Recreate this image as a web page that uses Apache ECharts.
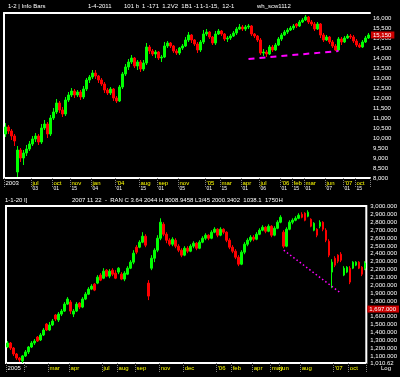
<!DOCTYPE html>
<html>
<head>
<meta charset="utf-8">
<script src="https://cdn.jsdelivr.net/npm/echarts@6/dist/echarts.min.js"></script>
<style>
  html, body { margin: 0; padding: 0; background: #000; }
  #chart { width: 400px; height: 377px; }
</style>
</head>
<body>
<div id="chart"></div>
<script>
// upper panel, [open, close, low, high]
var topBars = [
  [10200,10550,10050,10750],[10550,10350,10200,10650],[10350,10100,9900,10450],[10100,9850,9600,10200],
  [8300,9400,8050,9600],[9400,9000,8800,9500],[9000,9250,8650,9400],[9250,9450,9100,9650],
  [9450,9700,9350,9850],[9700,9950,9600,10100],[9950,10100,9800,10250],[10100,9800,9650,10200],
  [9800,10500,9700,10700],[10500,10700,10400,10900],[10700,10200,10000,10800],[10200,11000,10100,11150],
  [11000,11300,10900,11500],[11300,11750,11200,11950],[11750,11400,11250,11850],[11400,11200,11050,11550],
  [11200,11900,11100,12050],[11900,12150,11800,12300],[12150,12350,12050,12500],[12350,12150,12000,12450],
  [12150,12300,12050,12400],[12300,12050,11900,12400],[12050,12450,11950,12600],[12450,12900,12350,13000],
  [12900,13050,12750,13150],[13050,13250,12950,13400],[13250,13100,12950,13400],[13100,12900,12750,13150],
  [12900,12700,12600,13000],[12700,12400,12250,12800],[12400,12250,12150,12500],[12250,12450,12150,12550],
  [12450,12000,11850,12500],[12000,11850,11750,12100],[11850,12550,11800,12650],[12550,13200,12450,13300],
  [13200,13550,13100,13700],[13550,13800,13400,13950],[13800,14000,13700,14150],[14000,13600,13500,14050],
  [13600,13800,13400,13900],[13800,13450,13300,13900],[13450,13750,13350,13900],[13750,14550,13650,14750],
  [14550,14350,14200,14650],[14350,14200,14100,14450],[14200,14300,14000,14400],[14300,14000,13900,14350],
  [14000,14050,13800,14150],[14050,14600,14000,14800],[14600,14750,14500,14850],[14750,14600,14500,14800],
  [14600,14350,14250,14650],[14350,14250,14150,14450],[14250,14500,14150,14550],[14500,14600,14400,14700],
  [14600,14900,14550,15050],[14900,15150,14800,15300],[15150,14900,14750,15200],[14900,14700,14600,14950],
  [14700,14400,14250,14800],[14400,14800,14300,14900],[14800,15200,14700,15400],[15200,15300,15100,15450],
  [15300,15050,14950,15350],[15050,14750,14650,15100],[14750,15200,14650,15350],[15200,15350,15150,15450],
  [15350,15200,15100,15400],[15200,14950,14850,15250],[14950,15000,14800,15100],[15000,15100,14900,15200],
  [15100,15250,15050,15350],[15250,15450,15150,15550],[15450,15550,15400,15700],[15550,15450,15350,15650],
  [15450,15550,15350,15650],[15550,15600,15450,15700],[15600,15200,15100,15650],[15200,15100,15000,15250],
  [15100,14900,14800,15150],[14900,14250,14150,15000],[14250,14300,14100,14450],[14300,14200,14050,14400],
  [14200,14550,14150,14650],[14550,14400,14300,14650],[14400,14650,14350,14750],[14650,14950,14600,15050],
  [14950,15150,14850,15250],[15150,15300,15100,15400],[15300,15400,15200,15500],[15400,15500,15350,15600],
  [15500,15600,15400,15700],[15700,15600,15500,15750],[15600,15800,15550,15900],[15800,15900,15750,16000],
  [15900,16050,15850,16150],[16050,15800,15700,16100],[15800,15700,15600,15900],[15700,15450,15350,15800],
  [15450,15700,15400,15800],[15700,15150,15000,15750],[15150,14900,14800,15250],[14900,15050,14850,15150],
  [15050,14800,14700,15100],[14800,14600,14500,14900],[14600,14400,14350,14700],[14400,14950,14350,15050],
  [14950,14800,14650,15050],[14800,15000,14750,15100],[15000,15100,14950,15200],[15100,15050,14950,15200],
  [15050,14850,14750,15150],[14850,14650,14550,14950],[14650,14550,14500,14750],[14550,14800,14500,14900],
  [14800,15000,14750,15100],[15000,15150,14950,15250]
];
// lower panel, [open, close, low, high]
var botBars = [
  [1214,1265,1201,1290],[1265,1201,1176,1278],[1201,1125,1100,1214],[1125,1074,1049,1138],
  [1074,1049,1024,1087],[1036,1100,1011,1113],[1100,1151,1087,1176],[1151,1214,1125,1227],
  [1214,1265,1201,1290],[1265,1290,1240,1316],[1341,1290,1278,1354],[1303,1367,1290,1392],
  [1367,1430,1354,1455],[1506,1430,1417,1519],[1430,1494,1417,1532],[1494,1544,1481,1570],
  [1621,1570,1544,1633],[1557,1633,1532,1659],[1633,1671,1608,1697],[1671,1760,1659,1786],
  [1760,1824,1748,1849],[1786,1671,1633,1811],[1633,1671,1595,1697],[1671,1760,1659,1786],
  [1773,1722,1697,1786],[1722,1824,1709,1849],[1824,1887,1811,1913],[1887,1951,1875,1976],
  [1951,1989,1938,2014],[2014,1938,1925,2027],[2027,2103,2014,2129],[2129,2065,2052,2154],
  [2090,2179,2078,2217],[2192,2116,2103,2205],[2116,2179,2090,2205],[2192,2141,2116,2217],
  [2154,2090,2078,2192],[2167,2217,2141,2230],[2141,2078,2065,2167],[2078,2154,2052,2179],
  [2141,2217,2129,2243],[2217,2294,2205,2319],[2294,2408,2268,2446],[2484,2421,2395,2510],
  [2484,2548,2471,2573],[2548,2624,2535,2675],[2624,2510,2484,2649],[2027,1862,1811,2065],
  [2217,2344,2192,2383],[2344,2446,2294,2471],[2446,2598,2421,2637],[2598,2802,2573,2852],
  [2776,2649,2624,2802],[2649,2573,2535,2675],[2573,2522,2497,2598],[2522,2586,2497,2611],
  [2573,2497,2471,2598],[2497,2446,2421,2522],[2446,2383,2357,2471],[2383,2471,2370,2497],
  [2471,2433,2408,2497],[2433,2497,2421,2522],[2497,2535,2471,2560],[2535,2471,2446,2548],
  [2471,2548,2459,2573],[2548,2598,2535,2624],[2598,2637,2573,2662],[2637,2598,2573,2649],
  [2598,2675,2586,2700],[2675,2713,2662,2738],[2713,2637,2611,2725],[2637,2713,2624,2738],
  [2713,2675,2649,2725],[2675,2573,2548,2687],[2573,2484,2459,2598],[2484,2433,2408,2510],
  [2433,2357,2332,2459],[2357,2268,2243,2383],[2268,2421,2256,2446],[2421,2522,2395,2548],
  [2522,2573,2497,2598],[2573,2611,2548,2637],[2611,2586,2560,2637],[2586,2649,2573,2675],
  [2649,2700,2637,2725],[2700,2738,2687,2764],[2738,2687,2662,2751],[2687,2751,2675,2776],
  [2751,2637,2611,2764],[2637,2725,2624,2751],[2725,2802,2713,2827],[2802,2865,2789,2891],
  [2675,2497,2471,2700],[2497,2713,2484,2738],[2713,2802,2700,2827],[2802,2827,2776,2852],
  [2827,2852,2814,2878],[2852,2891,2840,2916],[2903,2865,2852,2929],[2916,2827,2814,2929],
  [2878,2929,2865,2954],[2840,2751,2738,2852],[2700,2789,2687,2802],[2713,2637,2611,2725],
  [2751,2802,2725,2827],[2802,2713,2687,2814],[2700,2573,2548,2725],[2560,2383,2357,2586],
  [2167,2294,1963,2332],[2344,2256,2230,2370],[2383,2306,2281,2395],[2395,2319,2294,2421],
  [2129,2217,2116,2243],[2167,2230,2154,2243],[2217,2040,2014,2243],[2217,2294,2205,2306],
  [2256,2294,2243,2306],[2294,2217,2205,2306],[2230,2141,2116,2243],[2217,2281,2192,2306]
];

var topMin = 8000, topMax = 16250;
var botMin = 1010.62, botMax = 3008.362;
var topLast = 15150;
var botMark = 1697;
var topTrend = [[81, 13950], [111, 14350]];
var botTrend = [[92, 2446], [111, 1900]];

// date labels under each panel
var topTickIdx = [0, 9, 16, 22, 29, 37, 45, 51, 58, 67, 72, 79, 85, 92, 96, 100, 107, 113, 117];
var topTickMon = ['2003', 'jul', 'oct', 'nov', 'jan', "'04", 'aug', 'sep', 'nov', "'05", 'mar', 'apr', 'jul', "'06", 'feb', 'mar', 'jun', "'07", 'oct'];
var topTickSub = ['', '03', '01', '15', '04', '01', '15', '01', '05', '01', '15', '01', '06', '01', '15', '01', '07', '01', '15'];
var botTickIdx = [0, 6, 14, 21, 32, 37, 43, 51, 59, 70, 75, 82, 88, 91, 98, 109, 114];
var botTickMon = ['2005', "'", 'mar', 'apr', 'jul', 'aug', 'sep', 'nov', 'dec', "'06", 'feb', 'apr', 'may', 'jun', 'aug', "'07", 'oct'];

var heads = [
  {x: 8, y: 3, t: '1-2 | Info Bars'},
  {x: 88, y: 3, t: '1-4-2011'},
  {x: 124, y: 3, t: '101 b'},
  {x: 142, y: 3, t: '1 -171  1.2V2  1B1 -1'},
  {x: 200, y: 3, t: '1-1-15,  12-1'},
  {x: 257, y: 3, t: 'wh_scw1112'},
  {x: 5, y: 197, t: '1-1-20 I]'},
  {x: 72, y: 197, t: '2007 11 22  -  RAN C 3.64 2044 H 8008.9458 L3/45 2000.3402  1038.1  1750H'},
  {x: 381, y: 365, t: 'Log'}
];

var font = 'Liberation Sans';

function fmt(v, d) {
  return v.toLocaleString('en-US', {minimumFractionDigits: d, maximumFractionDigits: d});
}

function tickLabel(idxList, monList, subList, whiteCount) {
  return {
    show: true,
    interval: function (i) { return idxList.indexOf(i) >= 0; },
    formatter: function (v, i) {
      var k = idxList.indexOf(i);
      if (k < 0) return '';
      var style = k < whiteCount ? 'w' : 'm';
      var sub = subList ? subList[k] : '';
      return '{' + style + '|' + monList[k] + '}' + (sub ? '\n{s|' + sub + '}' : '');
    },
    align: 'left',
    margin: 2,
    fontFamily: font,
    rich: {
      m: {color: '#ffff00', fontSize: 6, lineHeight: 6, fontFamily: font},
      w: {color: '#ffffff', fontSize: 6, lineHeight: 6, fontFamily: font},
      s: {color: '#ffffff', fontSize: 5, lineHeight: 6, fontFamily: font}
    }
  };
}

function tickMarks(idxList) {
  return {
    show: true,
    interval: function (i) { return idxList.indexOf(i) >= 0; },
    length: 9,
    lineStyle: {color: '#808080', type: 'dotted', width: 1}
  };
}

// current price box on the right edge
function priceLine(val, text) {
  return {
    yAxis: val,
    lineStyle: {color: 'rgba(0,0,0,0)', width: 1, opacity: 1},
    label: {
      show: true, position: 'end', distance: 1, formatter: text, opacity: 1,
      color: '#fff', backgroundColor: '#cc0000', fontSize: 6, fontFamily: font,
      padding: [1, 3, 0, 2]
    }
  };
}

function trendLine(pts, dash, w) {
  var st = {color: '#ff00ff', type: dash, width: w};
  return [
    {coord: pts[0], lineStyle: st, label: {show: false}},
    {coord: pts[1], lineStyle: st, label: {show: false}}
  ];
}

var candleStyle = {
  color: '#00ff00', color0: '#ff0000',
  borderColor: '#00ff00', borderColor0: '#ff0000', borderWidth: 1
};

var myChart = echarts.init(document.getElementById('chart'));
var topCats = topBars.map(function (d, i) { return i; });
var botCats = botBars.map(function (d, i) { return i; });

var option = {
  backgroundColor: '#000',
  animation: false,
  title: heads.map(function (h) {
    return {
      text: h.t, left: h.x, top: h.y, padding: 0,
      textStyle: {color: '#fff', fontSize: 6, fontWeight: 'normal', fontFamily: font}
    };
  }),
  grid: [
    {left: 4, top: 13, width: 366, height: 165},
    {left: 6, top: 206, width: 361, height: 157, show: true, borderColor: '#fff', borderWidth: 2}
  ],
  xAxis: [
    {
      type: 'category', gridIndex: 0, data: topCats, boundaryGap: true,
      axisLine: {show: true, lineStyle: {color: '#fff', width: 2}},
      axisTick: tickMarks(topTickIdx),
      axisLabel: tickLabel(topTickIdx, topTickMon, topTickSub, 1)
    },
    {
      type: 'category', gridIndex: 1, data: botCats, boundaryGap: true,
      axisLine: {show: false},
      axisTick: tickMarks(botTickIdx),
      axisLabel: tickLabel(botTickIdx, botTickMon, null, 2)
    },
    {
      type: 'category', gridIndex: 0, data: topCats, position: 'top',
      axisLine: {show: true, lineStyle: {color: '#fff', width: 2}},
      axisTick: {show: false}, axisLabel: {show: false}
    }
  ],
  yAxis: [
    {
      type: 'value', gridIndex: 0, position: 'right', min: topMin, max: topMax, splitNumber: 16,
      axisLine: {show: false}, axisTick: {show: false}, splitLine: {show: false},
      axisLabel: {
        color: '#fff', fontSize: 6, fontFamily: font, margin: 3, hideOverlap: true,
        formatter: function (v) { return fmt(v, 0); }
      }
    },
    {
      type: 'value', gridIndex: 1, position: 'right', min: botMin, max: botMax, splitNumber: 20,
      axisLine: {show: false}, axisTick: {show: false}, splitLine: {show: false},
      axisLabel: {
        color: '#fff', fontSize: 6, fontFamily: font, margin: 4, hideOverlap: true,
        formatter: function (v) { return v === botMin ? fmt(v, 2) : fmt(v, 3); }
      }
    },
    {
      type: 'value', gridIndex: 0, position: 'left', min: topMin, max: topMax,
      axisLine: {show: true, lineStyle: {color: '#fff', width: 2}},
      axisTick: {show: false}, axisLabel: {show: false}, splitLine: {show: false}
    }
  ],
  series: [
    {
      type: 'candlestick', xAxisIndex: 0, yAxisIndex: 0, data: topBars,
      barWidth: 2, itemStyle: candleStyle,
      markLine: {
        silent: true, symbol: ['none', 'none'],
        data: [priceLine(topLast, fmt(topLast, 0)), trendLine(topTrend, [6, 5], 2)]
      }
    },
    {
      type: 'candlestick', xAxisIndex: 1, yAxisIndex: 1, data: botBars,
      barWidth: 2, itemStyle: candleStyle,
      markLine: {
        silent: true, symbol: ['none', 'none'],
        data: [priceLine(botMark, fmt(botMark, 3)), trendLine(botTrend, [1.5, 2.5], 1.5)]
      }
    }
  ]
};
myChart.setOption(option);
</script>
</body>
</html>
